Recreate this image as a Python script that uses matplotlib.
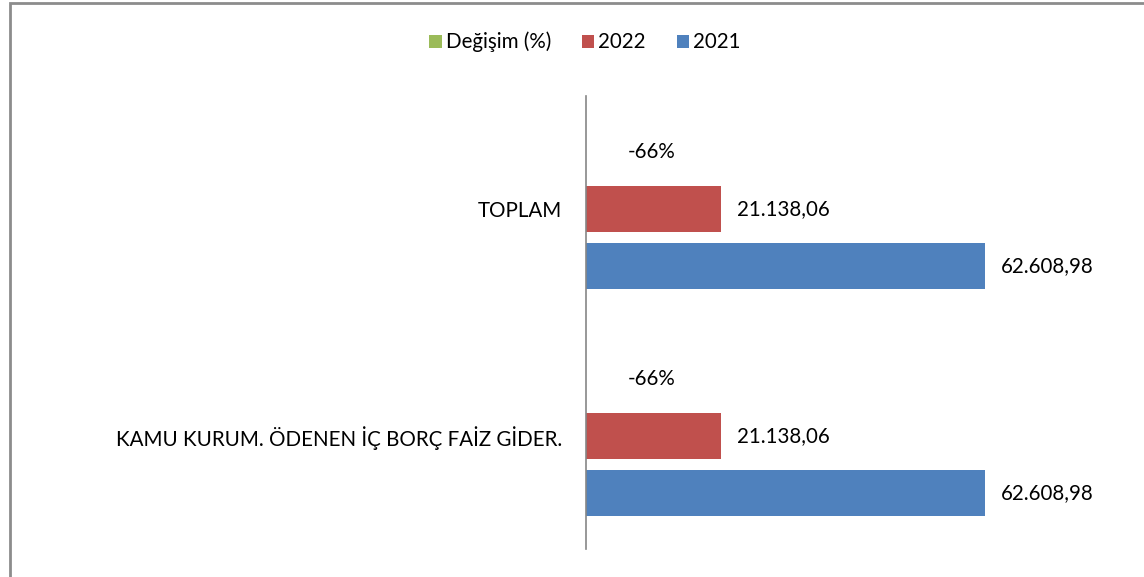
import matplotlib
matplotlib.use("Agg")
import matplotlib.pyplot as plt
from matplotlib.patches import Rectangle
import numpy as np

plt.rcParams['font.family'] = ['Lato', 'DejaVu Sans']

categories = ["KAMU KURUM. ÖDENEN İÇ BORÇ FAİZ GİDER.", "TOPLAM"]
series_names = ["Değişim (%)", "2022", "2021"]
degisim = [-0.66, -0.66]
v2022 = [21138.06, 21138.06]
v2021 = [62608.98, 62608.98]
colors = ["#9BBB59", "#C0504D", "#4F81BD"]


def tr_num(v):
    s = f"{v:,.2f}"
    return s.replace(",", "X").replace(".", ",").replace("X", ".")


W, H = 1144, 577
fig = plt.figure(figsize=(W / 100, H / 100), dpi=100)
ax = fig.add_axes([586 / W, (H - 549) / H, 446 / W, 453 / H])

y = np.arange(len(categories))
off = 0.2517
bh = 0.203
ax.barh(y + off, degisim, height=bh, color=colors[0], label=series_names[0])
ax.barh(y, v2022, height=bh, color=colors[1], label=series_names[1])
ax.barh(y - off, v2021, height=bh, color=colors[2], label=series_names[2])

fs = 14.8
for i in range(len(categories)):
    ax.annotate(f"{degisim[i] * 100:.0f}%", (0, y[i] + off), xytext=(47, 0),
                textcoords="offset points", ha="center", va="center", fontsize=fs)
    ax.annotate(tr_num(v2022[i]), (v2022[i], y[i]), xytext=(11.5, 0),
                textcoords="offset points", ha="left", va="center", fontsize=fs)
    ax.annotate(tr_num(v2021[i]), (v2021[i], y[i] - off), xytext=(11.5, 0),
                textcoords="offset points", ha="left", va="center", fontsize=fs)

ax.set_xlim(0, 70000)
ax.set_ylim(-0.5, 1.5)
ax.set_yticks(y)
ax.set_yticklabels(categories, fontsize=fs)
ax.tick_params(axis="y", length=0, pad=17)
ax.set_xticks([])
for s in ["top", "right", "bottom"]:
    ax.spines[s].set_visible(False)
ax.spines["left"].set_color("#868686")
ax.spines["left"].set_linewidth(1.2)

fig.legend(loc="center", bbox_to_anchor=(585 / W, 1 - 42 / H), ncol=3,
           frameon=False, fontsize=fs, handlelength=0.6, handleheight=0.6,
           handletextpad=0.2, columnspacing=1.5)

fig.add_artist(Rectangle((10 / W, -0.1), 1.2, 1.1 - 2.5 / H, transform=fig.transFigure,
                         fill=False, edgecolor="#8C8C8C", linewidth=2))

fig.savefig("out.png", dpi=100)
